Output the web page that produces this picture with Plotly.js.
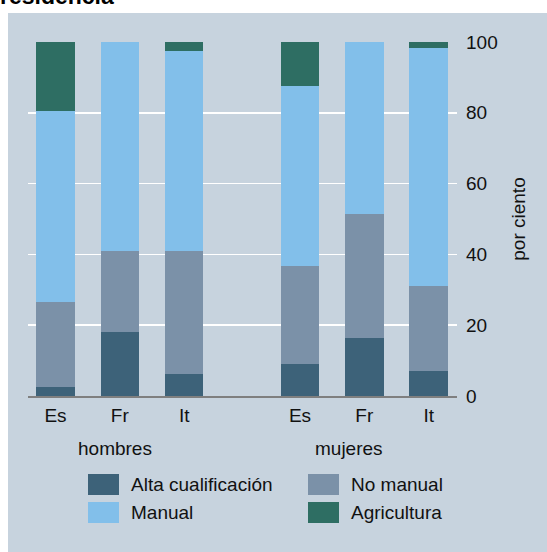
<!DOCTYPE html>
<html>
<head>
<meta charset="utf-8">
<script src="https://cdn.plot.ly/plotly-3.0.1.min.js"></script>
<style>html,body{margin:0;padding:0;background:#fff;}#chart{width:547px;height:552px;}</style>
</head>
<body>
<div id="chart"></div>
<script>
// ---- data ----
const countries = ['Es', 'Fr', 'It'];
const groups = ['hombres', 'mujeres'];
const seriesNames = ['Alta cualificación', 'No manual', 'Manual', 'Agricultura'];
// order per bar: hombres Es, Fr, It, mujeres Es, Fr, It
const altaCualificacion = [2.5, 18.1, 6.3, 9.1, 16.4, 7.2];
const noManual = [24.1, 22.9, 34.7, 27.7, 35.1, 23.9];
const manual = [53.9, 59.0, 56.6, 50.7, 48.5, 67.3];
const agricultura = [19.5, 0.0, 2.4, 12.5, 0.0, 1.6];
const yTicks = [0, 20, 40, 60, 80, 100];
const yTitle = 'por ciento';
const titleText = 'residencia';

// ---- layout helpers ----
const groupGap = 3.8;
const xPos = [];
const xText = [];
groups.forEach((g, gi) => countries.forEach((c, ci) => { xPos.push(ci + gi * groupGap); xText.push(c); }));

const colors = ['#3d6279', '#7b91a8', '#82bfea', '#2e6e63'];
const values = [altaCualificacion, noManual, manual, agricultura];
const font = 'Liberation Sans, Arial, sans-serif';
const FS = 19;
const txtColor = '#111111';

const traces = values.map((v, i) => ({
  type: 'bar', x: xPos, y: v, name: seriesNames[i],
  marker: {color: colors[i], line: {width: 0}},
  width: 0.6, showlegend: false, hoverinfo: 'skip'
}));

// plot area px: x 28..457, y 42..396
const L = 28, R = 457, T = 42, B = 396, W = 547, H = 552;
const px = x => (x - L) / (R - L);
const py = y => (B - y) / (B - T);

const shapes = [{
  type: 'rect', xref: 'paper', yref: 'paper', layer: 'below',
  x0: px(8), x1: px(560), y0: py(560), y1: py(13),
  fillcolor: '#c7d3de', line: {width: 0}
}];
const annotations = [];
// legend (custom)
const legendItems = [
  {i: 0, sx: 88, sy: 474}, {i: 1, sx: 308, sy: 474},
  {i: 2, sx: 88, sy: 502}, {i: 3, sx: 308, sy: 502}
];
legendItems.forEach(it => {
  shapes.push({type: 'rect', xref: 'paper', yref: 'paper',
    x0: px(it.sx), x1: px(it.sx + 31), y0: py(it.sy + 21), y1: py(it.sy),
    fillcolor: colors[it.i], line: {width: 0}});
  annotations.push({xref: 'paper', yref: 'paper', x: px(it.sx + 41), y: py(it.sy + 10.5),
    xanchor: 'left', yanchor: 'middle', showarrow: false, text: seriesNames[it.i],
    font: {family: font, size: FS, color: txtColor}});
});
// group labels
const groupLabelX = [0.92, 4.56];
groups.forEach((g, gi) => annotations.push({xref: 'x', yref: 'paper', x: groupLabelX[gi], y: py(448),
  xanchor: 'center', yanchor: 'middle', showarrow: false, text: g,
  font: {family: font, size: FS, color: txtColor}}));
// cut-off title (as in the reference, only its lower part is inside the picture)
annotations.push({xref: 'paper', yref: 'paper', x: px(-2), y: py(11), xanchor: 'left', yanchor: 'bottom',
  showarrow: false, text: '<b>' + titleText + '</b>', font: {family: font, size: 23, color: '#000'}});

const layout = {
  width: W, height: H,
  margin: {l: L, r: W - R, t: T, b: H - B, pad: 0},
  paper_bgcolor: '#ffffff', plot_bgcolor: '#c7d3de',
  barmode: 'stack', showlegend: false,
  font: {family: font, size: FS, color: txtColor},
  xaxis: {range: [-0.427, 6.24], tickvals: xPos, ticktext: xText, showgrid: false, zeroline: false,
    showline: true, linecolor: '#7f7f7f', linewidth: 1.5, ticks: '', ticklabelstandoff: 2,
    tickfont: {family: font, size: FS, color: txtColor}, fixedrange: true},
  yaxis: {side: 'right', range: [0, 100], tickvals: yTicks, showgrid: true, gridcolor: '#ffffff', gridwidth: 1.5,
    zeroline: false, ticks: '', ticklabelstandoff: 8,
    tickfont: {family: font, size: FS, color: txtColor},
    title: {text: yTitle, font: {family: font, size: FS, color: txtColor}, standoff: 14}, fixedrange: true},
  shapes: shapes, annotations: annotations
};
Plotly.newPlot('chart', traces, layout, {displayModeBar: false, staticPlot: true});
</script>
</body>
</html>
